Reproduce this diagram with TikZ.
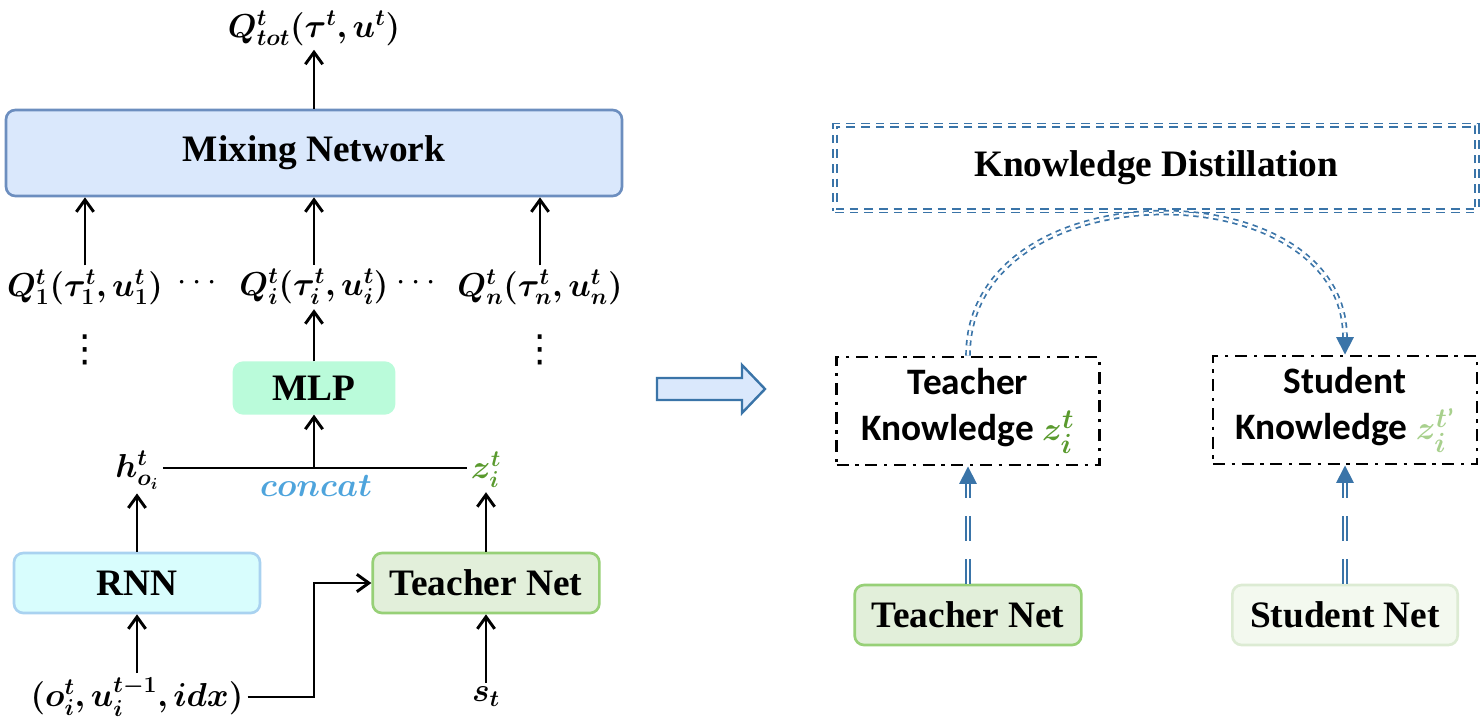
\documentclass[tikz,border=0pt]{standalone}
\usepackage{amsmath}
\usepackage{bm}
\usepackage{fontspec}
\setmainfont{Liberation Serif}
\newfontfamily\knowfont{Carlito}
\newfontfamily\dotfont{DejaVu Sans}
\usetikzlibrary{arrows.meta, positioning}

\definecolor{mixfill}{HTML}{DAE8FC}
\definecolor{mixline}{HTML}{6C8EBF}
\definecolor{mlpfill}{HTML}{BAFBDA}
\definecolor{rnnfill}{HTML}{D8FDFD}
\definecolor{rnnline}{HTML}{A9D2F0}
\definecolor{tnetfill}{HTML}{E2EFDA}
\definecolor{tnetline}{HTML}{97D077}
\definecolor{snetfill}{HTML}{F3F9EF}
\definecolor{snetline}{HTML}{DCEBD3}
\definecolor{kdblue}{HTML}{3A74A8}
\definecolor{concatblue}{HTML}{4EA4DC}
\definecolor{zgreen}{HTML}{5A9A2E}
\definecolor{zlight}{HTML}{A8D08D}

\begin{document}
\begin{tikzpicture}[
            x=0.75pt, y=-0.75pt,
            >={Straight Barb[length=9pt,width=13pt]},
            arr/.style={->, line width=2.2pt},
            lbl/.style={inner sep=3pt, font=\fontsize{25}{30}\selectfont},
            vdot/.style={inner sep=0pt, font=\fontsize{28}{28}\selectfont\dotfont},
            netbox/.style={rounded corners=7pt, line width=2pt, inner sep=0pt,
                font=\fontsize{28}{32}\selectfont\bfseries},
            mixbox/.style={netbox, fill=mixfill, draw=mixline,
                minimum width=462pt, minimum height=64.5pt},
            mlpbox/.style={netbox, fill=mlpfill, draw=mlpfill,
                minimum width=120pt, minimum height=38pt},
            rnnbox/.style={netbox, fill=rnnfill, draw=rnnline,
                minimum width=184.5pt, minimum height=45pt},
            tnetbox/.style={netbox, fill=tnetfill, draw=tnetline,
                minimum width=170pt, minimum height=45pt},
            snetbox/.style={netbox, fill=snetfill, draw=snetline,
                minimum width=169pt, minimum height=45pt},
            kdbox/.style={draw=kdblue, double=white, double distance=1.6pt, line width=1.3pt,
                dash pattern=on 6.5pt off 4.5pt, inner sep=0pt,
                minimum width=481.5pt, minimum height=64pt,
                font=\fontsize{28}{32}\selectfont\bfseries},
            knowbox/.style={draw, line width=2.2pt, dash pattern=on 9pt off 5pt on 2.5pt off 5pt,
                minimum width=197pt, minimum height=81pt, align=center, inner sep=0pt,
                font=\fontsize{28}{34.5}\selectfont\knowfont\bfseries},
            ddline/.style={draw=kdblue, double=white, double distance=1.6pt, line width=1.3pt,
                -{Triangle[length=13pt,width=13pt,fill=kdblue]}},
            ddvert/.style={ddline, dash pattern=on 18.75pt off 13.5pt},
            ddarc/.style={ddline, dash pattern=on 4pt off 3.5pt},
            bigarrow/.style={draw=kdblue, fill=mixfill, line width=1.8pt}]

        \useasboundingbox (0,0) rectangle (1482,722);

        % left: mixing network
        \node[mixbox] (mix) at (314,153) {Mixing Network};
        \node[lbl] (qtot) at (314,28) {$\bm{Q^t_{tot}(\tau^t, u^t)}$};
        \node[lbl] (q1) at (85,287) {$\bm{Q^t_1(\tau^t_1, u^t_1)}$};
        \node[lbl] (qi) at (314,287) {$\bm{Q^t_i(\tau^t_i, u^t_i)}$};
        \node[lbl] (qn) at (540,287) {$\bm{Q^t_n(\tau^t_n, u^t_n)}$};
        \node[lbl] (hdots1) at (200,283) {$\cdots$};
        \node[lbl] (hdots2) at (419,283) {$\cdots$};
        \node[vdot] (vdots1) at (85,350) {⋮};
        \node[vdot] (vdots2) at (540,350) {⋮};

        \draw[arr] (mix) -- (qtot);
        \foreach \q in {q1,qi,qn}
            \draw[arr] (\q.north) -- (\q.north |- mix.south);

        % agent i
        \node[mlpbox] (mlp) at (314,388) {MLP};
        \node[lbl] (h) at (137,470) {$\bm{h^t_{o_i}}$};
        \node[lbl, text=zgreen] (z) at (486,470) {$\bm{z^t_i}$};
        \coordinate (cc) at (314,468);
        \node[lbl, text=concatblue] (cclbl) at (316,486) {$\bm{concat}$};
        \node[rnnbox] (rnn) at (137,583) {RNN};
        \node[tnetbox] (tnl) at (486,583) {Teacher Net};
        \node[lbl] (inp) at (137,697) {$\bm{(o^t_i, u^{t-1}_i, idx)}$};
        \node[lbl] (st) at (486,697) {$\bm{s_t}$};

        \draw[line width=2.2pt] (h.east |- cc) -- (z.west |- cc);
        \draw[arr] (cc) -- (mlp);
        \draw[arr] (mlp) -- (qi);
        \draw[arr] (inp) -- (rnn);
        \draw[arr] (rnn) -- (h);
        \draw[arr] (st) -- (tnl);
        \draw[arr] (tnl) -- (z);
        \draw[arr] (inp.east) -- (inp.east -| cc) |- (tnl.west);

        % big arrow
        \draw[bigarrow] (657,378) -- (742,378) -- (742,365) -- (765,389)
            -- (742,413) -- (742,400) -- (657,400) -- cycle;

        % right: distillation
        \node[kdbox] (kd) at (1156,168) {Knowledge Distillation};
        \node[knowbox] (tk) at (968,411) {Teacher\\Knowledge {\color{zgreen}$\bm{z^t_i}$}};
        \node[knowbox, minimum width=198pt] (sk) at (1345,410) {Student\\Knowledge {\color{zlight}$\bm{z}^{\bm{t}\text{’}}_{\bm{i}}$}};
        \node[tnetbox] (tnr) at (968,615) {Teacher Net};
        \node[snetbox] (snr) at (1345,615) {Student Net};

        \draw[ddvert] (tnr) -- (tk);
        \draw[ddvert] (snr) -- (sk);
        \draw[ddarc] (tk.north) .. controls (968,168) and (1345,168) .. (sk.north);

    \end{tikzpicture}
\end{document}
